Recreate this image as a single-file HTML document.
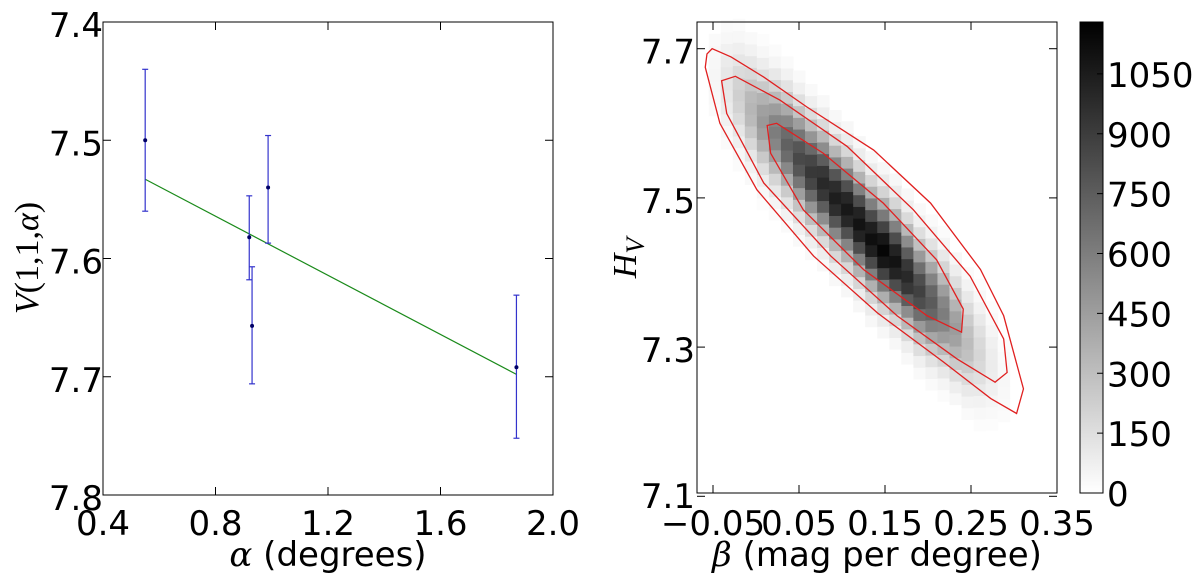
<!DOCTYPE html>
<html><head><meta charset="utf-8"><style>
body{margin:0;background:#fff;}
svg{display:block;font-family:"DejaVu Sans","Liberation Sans",sans-serif;}
.t{font-size:34px;fill:#000;}
</style></head><body>
<svg id="c" width="1200" height="575" viewBox="0 0 1200 575">
<defs><linearGradient id="cbg" x1="0" y1="1" x2="0" y2="0"><stop offset="0" stop-color="#fff"/><stop offset="1" stop-color="#000"/></linearGradient></defs>
<g id="left"></g>
<g id="right"></g>
<g id="cbar"></g>
</svg>
<script>
// ---- left chart data ----
const alphas = [0.55, 0.92, 0.93, 0.987, 1.87];
const mags = [7.50, 7.582, 7.657, 7.54, 7.692];
const errLo = [7.44, 7.547, 7.607, 7.496, 7.631];
const errHi = [7.56, 7.618, 7.706, 7.587, 7.752];
const fitX = [0.55, 1.87];
const fitY = [7.533, 7.698];
const leftXTicks = [0.4, 0.8, 1.2, 1.6, 2.0];
const leftXLabels = ["0.4","0.8","1.2","1.6","2.0"];
const leftYTicks = [7.4, 7.5, 7.6, 7.7, 7.8];
const leftYLabels = ["7.4","7.5","7.6","7.7","7.8"];
// ---- right chart data ----
const colBeta0 = -0.055, colBetaStep = 0.014, cellH = 0.0157;
const ridgeH = [7.665,7.652,7.638,7.62,7.602,7.588,7.572,7.553,7.535,7.52,7.50,7.485,7.465,7.445,7.43,7.415,7.395,7.375,7.36,7.345,7.325,7.305,7.29,7.275,7.255];
const ridgePeak = [40,120,220,340,470,600,730,840,920,990,1040,1070,1090,1110,1150,1090,990,880,760,600,460,310,190,90,35];
const ridgeSigma = 0.042;
const outerB = [-0.057,-0.051,-0.029,0.009,0.059,0.137,0.203,0.261,0.288,0.311,0.303,0.273,0.218,0.141,0.067,0.001,-0.042,-0.059];
const outerH = [7.693,7.700,7.689,7.662,7.622,7.564,7.493,7.404,7.342,7.244,7.211,7.231,7.280,7.346,7.422,7.511,7.600,7.675];
const midB = [-0.040,-0.024,0.028,0.106,0.183,0.249,0.288,0.292,0.278,0.234,0.164,0.087,0.009,-0.034];
const midH = [7.657,7.663,7.631,7.569,7.484,7.395,7.311,7.266,7.253,7.284,7.342,7.422,7.520,7.613];
const innerB = [0.013,0.024,0.078,0.148,0.210,0.241,0.239,0.199,0.125,0.055,0.017];
const innerH = [7.597,7.600,7.560,7.493,7.417,7.351,7.320,7.342,7.404,7.484,7.560];
const rightXTicks = [-0.05,0.05,0.15,0.25,0.35];
const rightXLabels = ["\u22120.05","0.05","0.15","0.25","0.35"];
const rightYTicks = [7.1,7.3,7.5,7.7];
const rightYLabels = ["7.1","7.3","7.5","7.7"];
const cbTicks = [0,150,300,450,600,750,900,1050];
const cbMax = 1180;

const NS="http://www.w3.org/2000/svg";
function mk(p,tag,a,txt){const e=document.createElementNS(NS,tag);for(const k in a)e.setAttribute(k,a[k]);if(txt!==undefined)e.textContent=txt;p.appendChild(e);return e;}

// left axes: x 103..553, y 22..495
const L=document.getElementById('left');
const lx=v=>103+(v-0.4)/1.6*450, ly=v=>22+(v-7.4)/0.4*473;
let fl=mk(L,'line',{x1:lx(fitX[0]),y1:ly(fitY[0]),x2:lx(fitX[1]),y2:ly(fitY[1]),stroke:'#1a8a1a','stroke-width':1.2});


alphas.forEach((a,i)=>{
  const g=mk(L,'g',{});
  
  
  const x=lx(a);
  mk(g,'line',{x1:x,y1:ly(errLo[i]),x2:x,y2:ly(errHi[i]),stroke:'#3333cc','stroke-width':1.2});
  mk(g,'line',{x1:x-3,y1:ly(errLo[i]),x2:x+3,y2:ly(errLo[i]),stroke:'#3333cc','stroke-width':1.2});
  mk(g,'line',{x1:x-3,y1:ly(errHi[i]),x2:x+3,y2:ly(errHi[i]),stroke:'#3333cc','stroke-width':1.2});
  mk(g,'circle',{cx:x,cy:ly(mags[i]),r:2,fill:'#000066'});
});
let fr=mk(L,'rect',{x:103,y:22,width:450,height:473,fill:'none',stroke:'#000','stroke-width':1});


leftXTicks.forEach((v,i)=>{const x=lx(v);mk(L,'line',{x1:x,y1:495,x2:x,y2:487,stroke:'#000'});mk(L,'line',{x1:x,y1:22,x2:x,y2:30,stroke:'#000'});
  const t=mk(L,'text',{x:x,y:535,'text-anchor':'middle',class:'t'},leftXLabels[i]);
  
  });
leftYTicks.forEach((v,i)=>{const y=ly(v);mk(L,'line',{x1:103,y1:y,x2:111,y2:y,stroke:'#000'});mk(L,'line',{x1:553,y1:y,x2:545,y2:y,stroke:'#000'});
  const t=mk(L,'text',{x:103,y:y+15,'text-anchor':'end',class:'t'},leftYLabels[i]);
  
  });
let xt=mk(L,'text',{x:328,y:566,'text-anchor':'middle',class:'t'});


xt.innerHTML='<tspan font-family="DejaVu Serif" font-style="italic">α</tspan> (degrees)';
let yt=mk(L,'text',{x:0,y:0,'text-anchor':'middle',class:'t',transform:'translate(38,258) rotate(-90)','font-family':'Liberation Serif','font-size':'38'});


yt.innerHTML='<tspan font-style="italic">V</tspan>(1,1,<tspan font-style="italic">α</tspan>)';

// right axes: x 697..1057, y 22..493
const R=document.getElementById('right');
const rx=v=>713+(v+0.05)*860, ry=v=>48.7+(7.7-v)*746;
ridgeH.forEach((hc,i)=>{
  const b0=colBeta0+i*colBetaStep;
  for(let k=-9;k<=9;k++){
    const h=hc+k*cellH;
    const v=ridgePeak[i]*Math.exp(-0.5*Math.pow(k*cellH/ridgeSigma,2));
    if(v<15)continue;
    const gr=Math.round(255*(1-v/cbMax));
    const r=mk(R,'rect',{x:rx(b0),y:ry(h+cellH/2),width:rx(b0+colBetaStep)-rx(b0)+0.5,height:cellH*746+0.5,fill:`rgb(${gr},${gr},${gr})`});
    
    
  }
});
[[outerB,outerH,'contour-outer'],[midB,midH,'contour-middle'],[innerB,innerH,'contour-inner']].forEach(([B,H,n])=>{
  const p=mk(R,'polygon',{points:B.map((b,i)=>rx(b)+','+ry(H[i])).join(' '),fill:'none',stroke:'#e02020','stroke-width':1.3});
  
  
});
let fr2=mk(R,'rect',{x:697,y:22,width:360,height:471,fill:'none',stroke:'#000','stroke-width':1});


rightXTicks.forEach((v,i)=>{const x=rx(v);mk(R,'line',{x1:x,y1:493,x2:x,y2:485,stroke:'#000'});mk(R,'line',{x1:x,y1:22,x2:x,y2:30,stroke:'#000'});
  const t=mk(R,'text',{x:x,y:535,'text-anchor':'middle',class:'t'},rightXLabels[i]);
  
  });
rightYTicks.forEach((v,i)=>{const y=ry(v);mk(R,'line',{x1:697,y1:y,x2:705,y2:y,stroke:'#000'});mk(R,'line',{x1:1057,y1:y,x2:1049,y2:y,stroke:'#000'});
  const t=mk(R,'text',{x:695,y:Math.min(y+15,508),'text-anchor':'end',class:'t'},rightYLabels[i]);
  
  });
let xt2=mk(R,'text',{x:877,y:566,'text-anchor':'middle',class:'t'});


xt2.innerHTML='<tspan font-family="DejaVu Serif" font-style="italic">β</tspan> (mag per degree)';
let yt2=mk(R,'text',{x:0,y:0,'text-anchor':'middle',class:'t',transform:'translate(636,258) rotate(-90)','font-family':'Liberation Serif','font-style':'italic','font-size':'40'});


yt2.innerHTML='H<tspan font-size="26" dy="8">V</tspan>';

// colorbar x 1080..1103, y 22..493
const C=document.getElementById('cbar');
const cy=v=>493-v/cbMax*471;
let cb=mk(C,'rect',{x:1080,y:22,width:23,height:471,fill:'url(#cbg)',stroke:'#000','stroke-width':1});


cbTicks.forEach(v=>{const y=cy(v);mk(C,'line',{x1:1097,y1:y,x2:1103,y2:y,stroke:'#000'});
  const t=mk(C,'text',{x:1107,y:y+13,class:'t'},String(v));
  
  });
</script>
</body></html>
